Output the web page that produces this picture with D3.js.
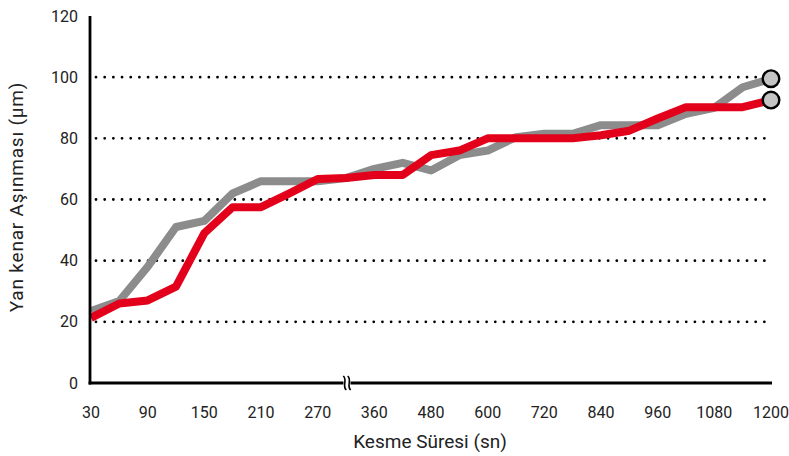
<!DOCTYPE html>
<html><head><meta charset="utf-8">
<script src="https://cdn.jsdelivr.net/npm/d3@7"></script>
<style>body{margin:0;background:#fff;}svg{display:block;font-family:Roboto,"DejaVu Sans",sans-serif;}</style>
</head><body>
<svg id="c" width="789" height="456"></svg>
<script>
// x positions: half-step sample index 0..24 (break between 270 and 360)
const tickLabels = ["30","90","150","210","270","360","480","600","720","840","960","1080","1200"];
const yTicks = [0,20,40,60,80,100,120];
const grayValues = [23.5,26.8,38,51,53,62,66,66,66,67,70,72,69.5,74.5,76,80.4,81.5,81.5,84.3,84.3,84.3,88,90,96.7,99.5];
const redValues  = [21.3,26,27,31.5,49,57.5,57.5,62,66.7,67,68,68,74.5,76,80,80,80,80,81,82.5,86.5,90.2,90.2,90.2,92.5];

const svg = d3.select("#c");
const x = d3.scaleLinear().domain([0,24]).range([91,771]);
const y = d3.scaleLinear().domain([0,120]).range([383,16]);

// grid
svg.append("g").selectAll("line").data(yTicks.filter(d=>d>0&&d<120)).join("line")
  .attr("x1",96).attr("x2",771).attr("y1",d=>y(d)).attr("y2",d=>y(d))
  .attr("stroke","#000").attr("stroke-width",2.8).attr("stroke-linecap","round")
  .attr("stroke-dasharray","0 8.68");

// y labels
svg.append("g").selectAll("text").data(yTicks).join("text")
  .attr("x",78).attr("y",d=>y(d)).attr("dy","0.35em").attr("text-anchor","end")
  .attr("font-size",16).attr("fill","#222").text(d=>d);

// x labels
svg.append("g").selectAll("text").data(tickLabels).join("text")
  .attr("x",(d,i)=>x(i*2)).attr("y",412).attr("dy","0.35em").attr("text-anchor","middle")
  .attr("font-size",16).attr("fill","#222").text(d=>d);

// lines
const line = d3.line().x((d,i)=>x(i)).y(d=>y(d));
svg.append("path").datum(grayValues).attr("d",line).attr("fill","none")
  .attr("stroke","#8c8c8c").attr("stroke-width",8).attr("stroke-linejoin","round");
svg.append("path").datum(redValues).attr("d",line).attr("fill","none")
  .attr("stroke","#e2001a").attr("stroke-width",8).attr("stroke-linejoin","round");

// axes
svg.append("line").attr("x1",90).attr("x2",90).attr("y1",16).attr("y2",384.5)
  .attr("stroke","#000").attr("stroke-width",2.8);
svg.append("line").attr("x1",88.6).attr("x2",772).attr("y1",383).attr("y2",383)
  .attr("stroke","#000").attr("stroke-width",2.8);

// break symbol
const bx = (x(8)+x(10))/2 + 1;
svg.append("rect").attr("x",bx-3.5).attr("y",377).attr("width",7).attr("height",12).attr("fill","#fff");
[-2.2,2.2].forEach(o=>{
  svg.append("path").attr("d",`M${bx+o-1.5},376 C${bx+o+3},380 ${bx+o-3},386 ${bx+o+1.5},390`)
    .attr("fill","none").attr("stroke","#000").attr("stroke-width",1.6);
});

// end markers
[grayValues[24], redValues[24]].forEach(v=>{
  svg.append("circle").attr("cx",x(24)).attr("cy",y(v)).attr("r",8.3)
    .attr("fill","#c4c4c4").attr("stroke","#000").attr("stroke-width",2.4);
});

// titles
svg.append("text").attr("x",430).attr("y",441).attr("dy","0.35em").attr("text-anchor","middle")
  .attr("font-size",19).attr("fill","#222").text("Kesme Süresi (sn)");
svg.append("text").attr("transform","translate(16,197) rotate(-90)").attr("dy","0.35em")
  .attr("text-anchor","middle").attr("font-size",19).attr("letter-spacing",0.8).attr("fill","#222").text("Yan kenar Aşınması (µm)");
</script>
</body></html>
